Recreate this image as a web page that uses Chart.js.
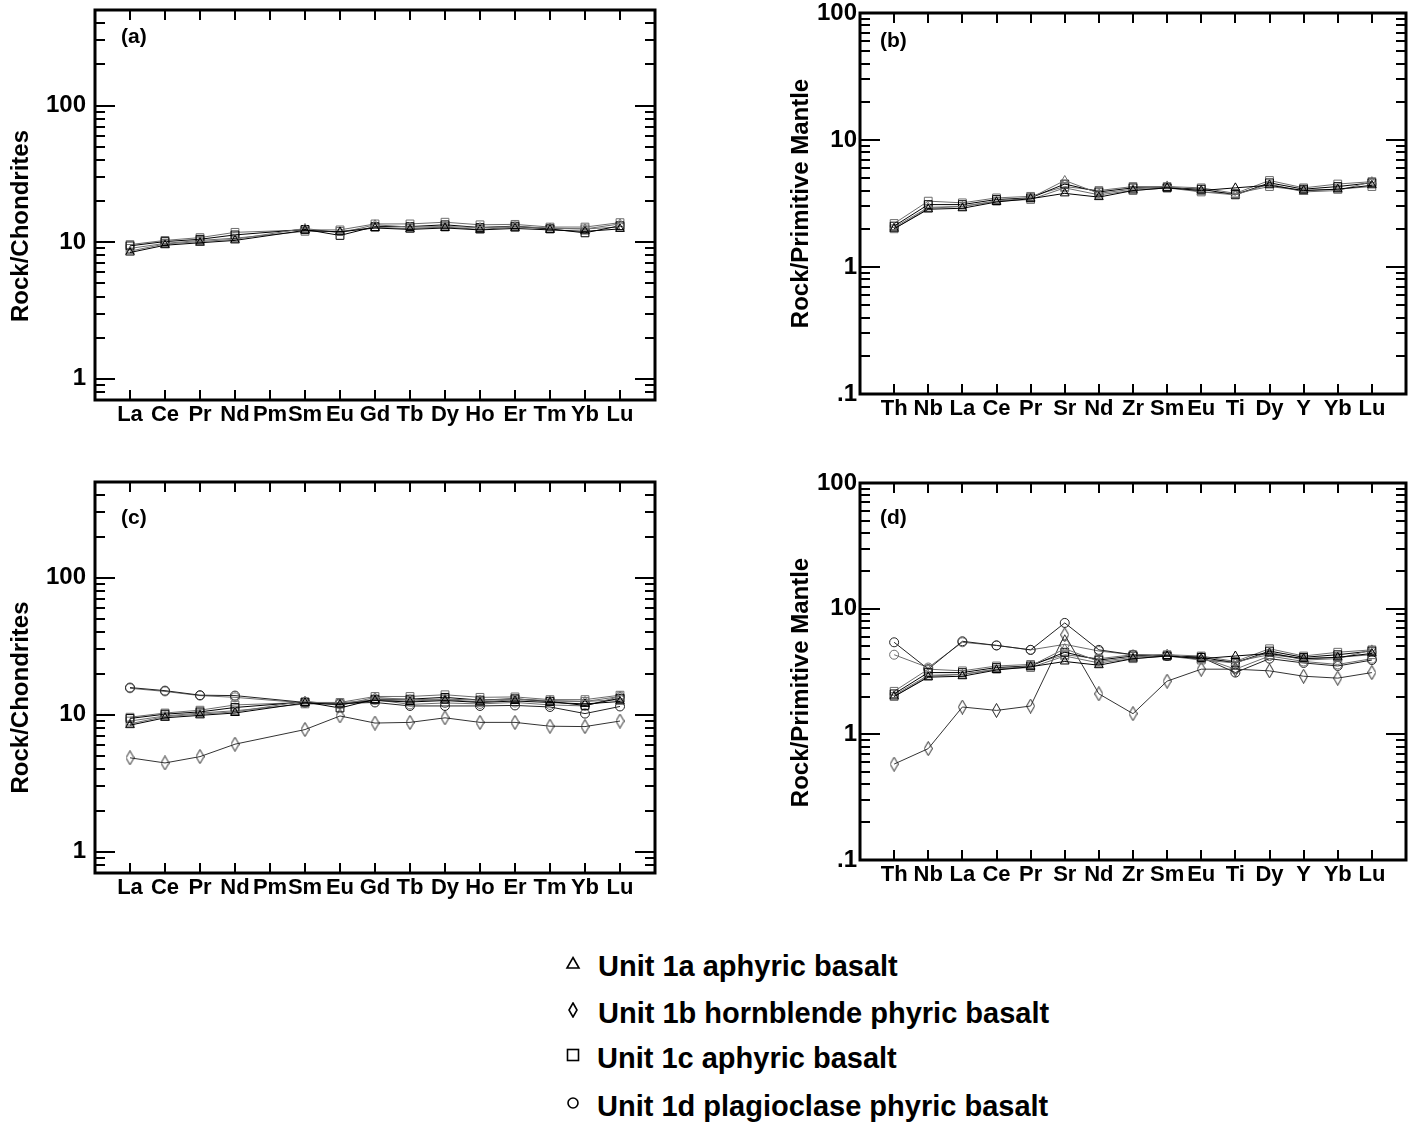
<!DOCTYPE html>
<html>
<head>
<meta charset="utf-8">
<script src="https://cdn.jsdelivr.net/npm/chart.js@4.4.1/dist/chart.umd.min.js"></script>
<style>
  body { margin: 0; background: #fff; width: 1418px; height: 1124px; overflow: hidden; position: relative; }
  canvas { position: absolute; }
  .leg { position: absolute; left: 560px; height: 40px; line-height: 40px; font: bold 29px "Liberation Sans", Arial, sans-serif; color: #000; white-space: nowrap; }
  .leg svg { position: absolute; left: 5px; top: 5px; }
  .leg span { position: absolute; left: 38px; }
</style>
</head>
<body>
<canvas id="chartA" width="690" height="460" style="left:0px;top:-20px"></canvas>
<canvas id="chartB" width="718" height="460" style="left:700px;top:-20px"></canvas>
<canvas id="chartC" width="690" height="460" style="left:0px;top:450px"></canvas>
<canvas id="chartD" width="718" height="460" style="left:700px;top:450px"></canvas>

<div class="leg" style="top:950px"><svg width="16" height="16"><path d="M8 2.5 L14 13 L2 13 Z" fill="none" stroke="#000" stroke-width="1.6"/></svg><span>Unit 1a aphyric basalt</span></div>
<div class="leg" style="top:997px"><svg width="16" height="16"><path d="M8 1 L12 8 L8 15 L4 8 Z" fill="none" stroke="#000" stroke-width="1.6"/></svg><span>Unit 1b hornblende phyric basalt</span></div>
<div class="leg" style="top:1042px"><svg width="16" height="16"><rect x="2.5" y="2.5" width="11" height="11" fill="none" stroke="#000" stroke-width="1.6"/></svg><span style="left:37px">Unit 1c aphyric basalt</span></div>
<div class="leg" style="top:1090px"><svg width="16" height="16"><circle cx="8" cy="8" r="5" fill="none" stroke="#000" stroke-width="1.6"/></svg><span style="left:37px">Unit 1d plagioclase phyric basalt</span></div>

<script>
// categories
var reeLabels = ["La", "Ce", "Pr", "Nd", "Pm", "Sm", "Eu", "Gd", "Tb", "Dy", "Ho", "Er", "Tm", "Yb", "Lu"];
var spiderLabels = ["Th", "Nb", "La", "Ce", "Pr", "Sr", "Nd", "Zr", "Sm", "Eu", "Ti", "Dy", "Y", "Yb", "Lu"];

// labelled y ticks
var reeTicks = [1, 10, 100];
var spiderTicks = [0.1, 1, 10, 100];

// chondrite normalised REE (Pm not analysed)
var ree1a_1 = [8.4, 9.5, 9.9, 10.3, null, 12.2, 11.9, 12.7, 12.4, 12.7, 12.3, 12.6, 12.3, 12.0, 12.5];
var ree1a_2 = [8.6, 9.7, 10.1, 10.5, null, 12.6, 11.7, 13.4, 12.9, 13.0, 12.8, 13.0, 12.7, 12.5, 13.6];
var ree1c_1 = [9.4, 10.1, 10.5, 11.3, null, 12.4, 11.2, 13.0, 13.0, 13.4, 12.8, 13.1, 12.5, 11.7, 13.2];
var ree1c_2 = [9.6, 10.3, 10.8, 11.8, null, 12.3, 12.3, 13.6, 13.6, 14.0, 13.4, 13.5, 12.9, 12.9, 13.9];
var ree1c_3 = [9.0, 9.8, 10.3, 10.7, null, 12.0, 12.0, 12.8, 12.6, 12.9, 12.4, 12.9, 12.6, 12.5, 12.9];
var ree1b = [4.85, 4.45, 4.95, 6.1, null, 7.8, 9.8, 8.7, 8.8, 9.5, 8.8, 8.8, 8.25, 8.2, 9.0];
var ree1d_1 = [15.8, 15.0, 13.9, 13.8, null, 12.3, 12.1, 12.3, 11.6, 11.6, 11.6, 11.7, 11.4, 10.2, 11.5];
var ree1d_2 = [15.6, 14.8, 13.8, 13.4, null, 12.2, 12.2, 12.9, 11.9, 12.2, 12.0, 12.3, 11.8, 11.6, 13.6];

// primitive mantle normalised
var sp1a_1 = [2.0, 2.85, 2.9, 3.25, 3.45, 3.8, 3.55, 4.0, 4.2, 4.0, 4.2, 4.4, 4.0, 4.1, 4.4];
var sp1a_2 = [2.05, 2.95, 3.0, 3.3, 3.5, 4.8, 3.8, 4.1, 4.35, 3.9, 3.7, 4.5, 3.9, 4.0, 4.7];
var sp1c_1 = [2.1, 3.1, 3.1, 3.4, 3.5, 4.5, 3.9, 4.2, 4.2, 4.1, 3.7, 4.6, 4.1, 4.3, 4.6];
var sp1c_2 = [2.2, 3.3, 3.2, 3.5, 3.6, 4.3, 4.0, 4.3, 4.3, 4.2, 3.8, 4.8, 4.2, 4.5, 4.7];
var sp1c_3 = [2.0, 2.9, 3.0, 3.3, 3.4, 4.2, 3.7, 4.0, 4.2, 3.9, 3.8, 4.3, 4.0, 4.1, 4.3];
var sp1b = [0.58, 0.77, 1.65, 1.55, 1.68, 6.2, 2.1, 1.46, 2.65, 3.3, 3.3, 3.2, 2.9, 2.8, 3.1];
var sp1d_1 = [5.4, 3.3, 5.5, 5.1, 4.7, 7.7, 4.7, 4.3, 4.2, 4.1, 3.1, 4.0, 3.7, 3.5, 3.9];
var sp1d_2 = [4.3, 3.4, 5.4, 5.1, 4.7, 5.2, 4.6, 4.3, 4.2, 4.1, 3.3, 4.2, 3.8, 3.6, 4.0];

Chart.defaults.font.family = '"Liberation Sans", Arial, sans-serif';
Chart.defaults.font.weight = "bold";
Chart.defaults.color = "#000";

var BLACK = "#000";
var GREY = "#6e6e6e";

// tall narrow diamond marker
function diamondMarker(color) {
    var c = document.createElement("canvas");
    c.width = 9; c.height = 15;
    var g = c.getContext("2d");
    g.strokeStyle = color;
    g.lineWidth = 1;
    g.beginPath();
    g.moveTo(4.5, 0.5); g.lineTo(8.5, 7.5); g.lineTo(4.5, 14.5); g.lineTo(0.5, 7.5);
    g.closePath();
    g.stroke();
    return c;
}
var diamond = diamondMarker("#222");

function series(values, style, color, radius) {
    return {
        data: values.map(function (v, i) { return { x: i, y: v } }).filter(function (p) { return p.y != null }),
        borderColor: color,
        borderWidth: 1,
        pointStyle: style,
        pointRadius: radius,
        pointBorderColor: color,
        pointBackgroundColor: "rgba(0,0,0,0)",
        pointBorderWidth: 1,
        tension: 0,
        fill: false
    }
}

// log ticks between min and max (inclusive), major ones at powers of ten
function logTicks(min, max) {
    var out = [];
    for (var e = Math.floor(Math.log10(min)); e <= Math.ceil(Math.log10(max)); e++) {
        for (var m = 1; m < 10; m++) {
            var v = m * Math.pow(10, e);
            if (v >= min * 0.9999 && v <= max * 1.0001) out.push({ value: v, major: m === 1 });
        }
    }
    return out;
}

function fmt(v) {
    return v < 1 ? String(v).replace(/^0/, "") : String(v);
}

var framePlugin = {
    id: "frame",
    afterDraw: function (chart, args, o) {
        var ctx = chart.ctx, a = chart.chartArea, x = chart.scales.x, y = chart.scales.y;
        ctx.save();
        ctx.strokeStyle = "#000";
        ctx.lineWidth = 2;
        ctx.beginPath();
        x.ticks.forEach(function (t) {
            var px = Math.round(x.getPixelForValue(t.value));
            ctx.moveTo(px, a.top); ctx.lineTo(px, a.top + 10);
            ctx.moveTo(px, a.bottom); ctx.lineTo(px, a.bottom - 10);
        });
        y.ticks.forEach(function (t) {
            var py = Math.round(y.getPixelForValue(t.value));
            var len = t.major ? 20 : 10;
            ctx.moveTo(a.left, py); ctx.lineTo(a.left + len, py);
            ctx.moveTo(a.right, py); ctx.lineTo(a.right - len, py);
        });
        ctx.stroke();
        ctx.lineWidth = 3;
        ctx.strokeRect(a.left, a.top, a.right - a.left, a.bottom - a.top);

        ctx.fillStyle = "#000";
        ctx.font = 'bold 21px "Liberation Sans", Arial, sans-serif';
        ctx.textAlign = "left";
        ctx.textBaseline = "middle";
        ctx.fillText(o.letter, a.left + o.letterX, a.top + o.letterY);

        ctx.font = 'bold 24px "Liberation Sans", Arial, sans-serif';
        ctx.textAlign = "center";
        ctx.translate(a.left + o.titleX, (a.top + a.bottom) / 2 + o.titleY);
        ctx.rotate(-Math.PI / 2);
        ctx.fillText(o.title, 0, 0);
        ctx.restore();
    }
};

function makeChart(id, cats, yMin, yMax, majors, sets, box, panel) {
    var yTicks = logTicks(yMin, yMax);
    return new Chart(document.getElementById(id), {
        type: "line",
        data: { datasets: sets },
        options: {
            responsive: false,
            animation: false,
            devicePixelRatio: 1,
            layout: { padding: { top: box.top, right: box.right, left: 0, bottom: 0 } },
            plugins: { legend: { display: false }, tooltip: { enabled: false }, frame: panel },
            scales: {
                x: {
                    type: "linear",
                    min: -1,
                    max: cats.length,
                    grid: { display: false, drawTicks: false },
                    border: { display: false },
                    afterBuildTicks: function (s) { s.ticks = cats.map(function (c, i) { return { value: i } }) },
                    afterFit: function (s) { s.height = box.xh },
                    ticks: {
                        autoSkip: false, maxRotation: 0, padding: 2,
                        font: { size: 22, weight: "bold" },
                        callback: function (v) { return cats[v] }
                    }
                },
                y: {
                    type: "logarithmic",
                    min: yMin,
                    max: yMax,
                    grid: { display: false, drawTicks: false },
                    border: { display: false },
                    afterBuildTicks: function (s) { s.ticks = yTicks.map(function (t) { return { value: t.value, major: t.major } }) },
                    afterFit: function (s) { s.width = box.yw },
                    ticks: {
                        autoSkip: false, padding: box.ypad,
                        font: { size: 24, weight: "bold" },
                        callback: function (v) {
                            var m = majors.find(function (k) { return Math.abs(k - v) / k < 1e-6 });
                            return m === undefined ? "" : fmt(m);
                        }
                    }
                }
            }
        },
        plugins: [framePlugin]
    });
}

function reeSets(all) {
    var s = [
        series(ree1a_1, "triangle", BLACK, 5),
        series(ree1a_2, "triangle", GREY, 5),
        series(ree1c_1, "rect", BLACK, 5.5),
        series(ree1c_2, "rect", GREY, 5.5),
        series(ree1c_3, "rect", GREY, 5.5)
    ];
    if (all) {
        s.push(series(ree1b, diamond, "#333", 6));
        s.push(series(ree1d_1, "circle", "#222", 4.5));
        s.push(series(ree1d_2, "circle", GREY, 4.5));
    }
    return s;
}

function spiderSets(all) {
    var s = [
        series(sp1a_1, "triangle", BLACK, 5),
        series(sp1a_2, "triangle", GREY, 5),
        series(sp1c_1, "rect", BLACK, 5.5),
        series(sp1c_2, "rect", GREY, 5.5),
        series(sp1c_3, "rect", GREY, 5.5)
    ];
    if (all) {
        s.push(series(sp1b, diamond, "#333", 6));
        s.push(series(sp1d_1, "circle", "#222", 4.5));
        s.push(series(sp1d_2, "circle", GREY, 4.5));
    }
    return s;
}

makeChart("chartA", reeLabels, 0.7, 500, reeTicks, reeSets(false),
    { top: 30, right: 35, xh: 40, yw: 95, ypad: 9 },
    { letter: "(a)", letterX: 26, letterY: 27, title: "Rock/Chondrites", titleX: -74, titleY: 21 });
makeChart("chartB", spiderLabels, 0.1, 100, spiderTicks, spiderSets(false),
    { top: 33, right: 12, xh: 46, yw: 160, ypad: 3 },
    { letter: "(b)", letterX: 20, letterY: 28, title: "Rock/Primitive Mantle", titleX: -59, titleY: 0 });
makeChart("chartC", reeLabels, 0.7, 500, reeTicks, reeSets(true),
    { top: 32, right: 35, xh: 37, yw: 95, ypad: 9 },
    { letter: "(c)", letterX: 26, letterY: 36, title: "Rock/Chondrites", titleX: -74, titleY: 20 });
makeChart("chartD", spiderLabels, 0.1, 100, spiderTicks, spiderSets(true),
    { top: 33, right: 12, xh: 50, yw: 160, ypad: 3 },
    { letter: "(d)", letterX: 20, letterY: 35, title: "Rock/Primitive Mantle", titleX: -59, titleY: 11 });
</script>
</body>
</html>
